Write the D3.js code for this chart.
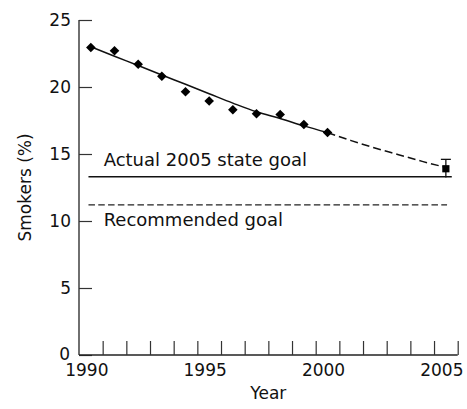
<!DOCTYPE html>
<html>
<head>
<meta charset="utf-8">
<script src="https://cdn.jsdelivr.net/npm/d3@7"></script>
<style>
  body { margin: 0; background: #fff; }
  text { font-family: "DejaVu Sans", sans-serif; fill: #111; }
</style>
</head>
<body>
<div id="chart"></div>
<script>
const FRAME_WIDTH = 467;
const FRAME_HEIGHT = 409;
const MARGINS = {left: 79, right: 9.3, top: 20, bottom: 54};

// observed yearly prevalence (diamonds)
const years = [1990, 1991, 1992, 1993, 1994, 1995, 1996, 1997, 1998, 1999, 2000];
const smokers = [22.95, 22.7, 21.7, 20.8, 19.65, 18.95, 18.3, 18.0, 17.95, 17.2, 16.6];

// fitted trend, solid to 2000 then projected (dashed) to 2005
const trendYears = [1990, 1991, 1992, 1993, 1994, 1995, 1996, 1997, 1998, 1999, 2000];
const trendValues = [23.0, 22.3, 21.6, 20.9, 20.2, 19.5, 18.8, 18.15, 17.65, 17.1, 16.6];
const projYears = [2000, 2001, 2002, 2003, 2004, 2005];
const projValues = [16.6, 16.0, 15.45, 14.95, 14.45, 14.0];

// 2005 estimate with error bar
const estYear = [2005];
const estValue = [13.9];
const estLow = [13.25];
const estHigh = [14.6];

// goals
const stateGoal = 13.3;
const recommendedGoal = 11.2;

// axes
const xTickYears = [1990, 1991, 1992, 1993, 1994, 1995, 1996, 1997, 1998, 1999, 2000, 2001, 2002, 2003, 2004, 2005, 2006];
const xLabelYears = [1990, 1995, 2000, 2005];
const yTicks = [0, 5, 10, 15, 20, 25];

const VIS_WIDTH = FRAME_WIDTH - MARGINS.left - MARGINS.right;
const MID = 0.5; // values sit in the middle of each year

const X = d3.scaleLinear().domain([1990, 2006]).range([MARGINS.left, MARGINS.left + VIS_WIDTH]);
const Y = d3.scaleLinear().domain([0, 25]).range([355, MARGINS.top]);

const svg = d3.select("#chart").append("svg")
  .attr("width", FRAME_WIDTH)
  .attr("height", FRAME_HEIGHT);

// y axis, ticks pointing inward
const yAxis = svg.append("g")
  .attr("transform", "translate(" + X(1990) + ",0)")
  .call(d3.axisRight(Y).tickValues(yTicks).tickSize(13).tickFormat(""));
yAxis.select(".domain").attr("d", "M0," + Y(0) + "V" + Y(25)).attr("stroke", "#222").attr("stroke-width", 1.3);
yAxis.selectAll(".tick line").attr("stroke", "#333").attr("stroke-width", 1.2);

svg.append("g").selectAll("text")
  .data(yTicks)
  .enter().append("text")
    .attr("x", d => X(1990) - (d === 0 ? 9 : 8))
    .attr("y", d => Y(d) - (d === 0 ? 1 : 0))
    .attr("dy", "0.36em")
    .attr("text-anchor", "end")
    .attr("font-size", "17px")
    .text(d => d);

// x axis, ticks pointing up
const xAxis = svg.append("g")
  .attr("transform", "translate(0," + Y(0) + ")")
  .call(d3.axisTop(X).tickValues(xTickYears.slice(1)).tickSize(14).tickFormat(""));
xAxis.select(".domain").attr("d", "M" + X(1990) + ",0H" + X(2006)).attr("stroke", "#222").attr("stroke-width", 1.3);
xAxis.selectAll(".tick line").attr("stroke", "#333").attr("stroke-width", 1.2);

svg.append("g").selectAll("text")
  .data(xLabelYears)
  .enter().append("text")
    .attr("x", d => X(d + MID) - 4)
    .attr("y", 376)
    .attr("text-anchor", "middle")
    .attr("font-size", "17px")
    .text(d => d);

// axis titles
svg.append("text")
  .attr("x", X(1998))
  .attr("y", 399)
  .attr("text-anchor", "middle")
  .attr("font-size", "17px")
  .text("Year");

svg.append("text")
  .attr("transform", "translate(31," + Y(12.5) + ") rotate(-90)")
  .attr("text-anchor", "middle")
  .attr("font-size", "17px")
  .text("Smokers (%)");

// goal lines
svg.append("line")
  .attr("x1", X(1990.4)).attr("x2", X(2005.75))
  .attr("y1", Y(stateGoal)).attr("y2", Y(stateGoal))
  .attr("stroke", "#111").attr("stroke-width", 1.4);

svg.append("line")
  .attr("x1", X(1990.4)).attr("x2", X(2005.55))
  .attr("y1", Y(recommendedGoal)).attr("y2", Y(recommendedGoal))
  .attr("stroke", "#222").attr("stroke-width", 1.4)
  .attr("stroke-dasharray", "6.5,3.3");

svg.append("text")
  .attr("x", X(1991) + 1)
  .attr("y", Y(stateGoal) - 11)
  .attr("font-size", "18px")
  .text("Actual 2005 state goal");

svg.append("text")
  .attr("x", X(1991) + 1)
  .attr("y", Y(recommendedGoal) + 21)
  .attr("font-size", "18px")
  .text("Recommended goal");

// trend lines
const line = d3.line()
  .x(d => X(d[0] + MID))
  .y(d => Y(d[1]))
  .curve(d3.curveMonotoneX);

svg.append("path")
  .datum(d3.zip(trendYears, trendValues))
  .attr("d", line)
  .attr("fill", "none")
  .attr("stroke", "#111")
  .attr("stroke-width", 1.5);

svg.append("path")
  .datum(d3.zip(projYears, projValues))
  .attr("d", line)
  .attr("fill", "none")
  .attr("stroke", "#111")
  .attr("stroke-width", 1.5)
  .attr("stroke-dasharray", "8,4");

// diamonds
svg.append("g").selectAll("path")
  .data(d3.zip(years, smokers))
  .enter().append("path")
    .attr("d", d3.symbol(d3.symbolSquare, 46))
    .attr("transform", d => "translate(" + X(d[0] + MID) + "," + Y(d[1]) + ") rotate(45)")
    .attr("fill", "#000");

// 2005 estimate with error bar
const est = svg.append("g").selectAll("g")
  .data(d3.zip(estYear, estValue, estLow, estHigh))
  .enter().append("g");

est.append("line")
  .attr("x1", d => X(d[0] + MID)).attr("x2", d => X(d[0] + MID))
  .attr("y1", d => Y(d[2])).attr("y2", d => Y(d[3]))
  .attr("stroke", "#111").attr("stroke-width", 1.3);

est.append("line")
  .attr("x1", d => X(d[0] + MID) - 5).attr("x2", d => X(d[0] + MID) + 5)
  .attr("y1", d => Y(d[3])).attr("y2", d => Y(d[3]))
  .attr("stroke", "#111").attr("stroke-width", 1.3);

est.append("path")
  .attr("d", d3.symbol(d3.symbolSquare, 52))
  .attr("transform", d => "translate(" + X(d[0] + MID) + "," + Y(d[1]) + ")")
  .attr("fill", "#000");
</script>
</body>
</html>
